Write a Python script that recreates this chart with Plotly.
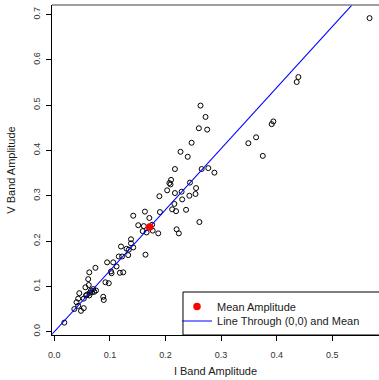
import plotly.graph_objects as go

# Per-object amplitudes in the I and V bands
i_amp = [
    0.567, 0.439, 0.436, 0.394, 0.391, 0.363, 0.349, 0.375,
    0.263, 0.272, 0.260, 0.275, 0.247, 0.227, 0.240, 0.265,
    0.277, 0.288, 0.217, 0.210, 0.207, 0.209, 0.244, 0.255,
    0.203, 0.217, 0.229, 0.254, 0.243, 0.230, 0.189, 0.216,
    0.212, 0.219, 0.237, 0.163, 0.190, 0.171, 0.142, 0.261,
    0.151, 0.161, 0.176, 0.166, 0.177, 0.187, 0.159, 0.220,
    0.224, 0.164, 0.138, 0.138, 0.142, 0.130, 0.134, 0.120,
    0.116, 0.122, 0.133, 0.106, 0.095, 0.112, 0.102, 0.103,
    0.118, 0.124, 0.074, 0.063, 0.061, 0.092, 0.098, 0.062,
    0.056, 0.066, 0.070, 0.075, 0.072, 0.068, 0.064, 0.059,
    0.045, 0.053, 0.043, 0.063, 0.057, 0.088, 0.089, 0.040,
    0.043, 0.053, 0.036, 0.048, 0.018,
]
v_amp = [
    0.692, 0.562, 0.551, 0.464, 0.458, 0.429, 0.416, 0.388,
    0.499, 0.474, 0.449, 0.446, 0.417, 0.397, 0.386, 0.359,
    0.361, 0.351, 0.359, 0.335, 0.328, 0.325, 0.329, 0.317,
    0.312, 0.306, 0.309, 0.304, 0.300, 0.292, 0.299, 0.282,
    0.270, 0.266, 0.269, 0.265, 0.264, 0.251, 0.256, 0.242,
    0.235, 0.233, 0.236, 0.219, 0.223, 0.217, 0.222, 0.226,
    0.217, 0.170, 0.204, 0.195, 0.186, 0.183, 0.181, 0.188,
    0.166, 0.166, 0.169, 0.153, 0.153, 0.144, 0.133, 0.129,
    0.130, 0.131, 0.141, 0.131, 0.116, 0.109, 0.107, 0.103,
    0.098, 0.091, 0.094, 0.091, 0.088, 0.087, 0.086, 0.082,
    0.085, 0.073, 0.073, 0.080, 0.080, 0.077, 0.070, 0.065,
    0.057, 0.052, 0.050, 0.046, 0.020,
]

# Mean amplitude (I, V)
mean_i = 0.1716
mean_v = 0.2311

x_ticks = [0.0, 0.1, 0.2, 0.3, 0.4, 0.5]
x_tick_labels = ["0.0", "0.1", "0.2", "0.3", "0.4", "0.5"]
y_ticks = [0.0, 0.1, 0.2, 0.3, 0.4, 0.5, 0.6, 0.7]
y_tick_labels = ["0.0", "0.1", "0.2", "0.3", "0.4", "0.5", "0.6", "0.7"]

x_range = [-0.0041, 0.5840]
y_range = [-0.0073, 0.7210]

FONT = "Liberation Sans, Arial, Helvetica, sans-serif"

slope = mean_v / mean_i
line_x = [x_range[0] - 0.05, x_range[1] + 0.05]
line_y = [slope * x for x in line_x]

fig = go.Figure()

fig.add_trace(go.Scatter(
    x=i_amp, y=v_amp, mode="markers",
    marker=dict(symbol="circle-open", size=5, color="black",
                line=dict(width=1, color="black")),
    showlegend=False, hoverinfo="skip",
))

fig.add_trace(go.Scatter(
    x=line_x, y=line_y, mode="lines",
    line=dict(color="#0000ff", width=1.1),
    name="Line Through (0,0) and Mean", legend="legend2",
))

fig.add_trace(go.Scatter(
    x=[mean_i], y=[mean_v], mode="markers",
    marker=dict(symbol="circle", size=7.5, color="#ff0000"),
    name="Mean Amplitude", legend="legend",
))

axis_common = dict(
    showgrid=False, zeroline=False, showline=True, linecolor="black",
    linewidth=1, ticks="outside", ticklen=5, tickwidth=1,
    tickcolor="black", tickmode="array",
    tickfont=dict(family=FONT, size=9, color="#333333"),
)

fig.update_xaxes(
    range=x_range, tickvals=x_ticks, ticktext=x_tick_labels,
    ticklabelstandoff=6,
    title=dict(text="I Band Amplitude", standoff=8,
               font=dict(family=FONT, size=11, color="#1a1a1a")),
    **axis_common,
)
fig.update_yaxes(
    range=y_range, tickvals=y_ticks, ticktext=y_tick_labels,
    tickangle=-90, ticklabelstandoff=2,
    title=dict(text="V Band Amplitude", standoff=14,
               font=dict(family=FONT, size=11, color="#1a1a1a")),
    **axis_common,
)

legend_common = dict(
    xanchor="left", yanchor="middle", x=0.3823,
    bgcolor="rgba(0,0,0,0)", borderwidth=0,
    font=dict(family=FONT, size=11, color="#1a1a1a"),
)

fig.update_layout(
    width=379, height=380,
    margin=dict(l=52, r=0, t=5, b=45, autoexpand=False),
    paper_bgcolor="white", plot_bgcolor="white",
    legend=dict(y=0.0864, **legend_common),
    legend2=dict(y=0.0424, **legend_common),
    shapes=[
        # top border of the plotting box
        dict(type="line", xref="paper", yref="paper", x0=0, x1=1.05,
             y0=1, y1=1, line=dict(color="#7f7f7f", width=1.5)),
        # legend frame
        dict(type="rect", xref="paper", yref="paper", x0=0.4006, x1=1.1,
             y0=0, y1=0.1303, fillcolor="white",
             line=dict(color="black", width=1), layer="above"),
    ],
)

fig.write_html("out.html")
